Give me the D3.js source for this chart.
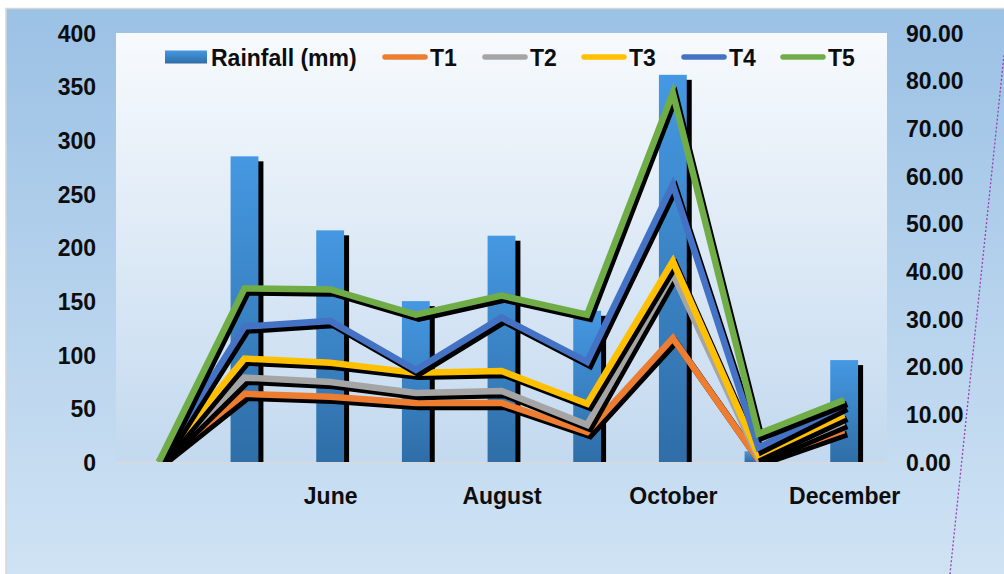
<!DOCTYPE html>
<html>
<head>
<meta charset="utf-8">
<script src="https://cdn.jsdelivr.net/npm/d3@7"></script>
<style>
  html, body { margin: 0; padding: 0; background: #ffffff; }
  svg { display: block; }
  text { font-family: "Liberation Sans", Arial, sans-serif; font-weight: bold; fill: #0d0d0d; }
</style>
</head>
<body>
<svg id="chart" width="1004" height="574"></svg>
<script>
// ---- data ----
const categories = ["", "May", "June", "July", "August", "September", "October", "November", "December"];
const xTickLabels = ["June", "August", "October", "December"];
const rainfall = [0, 285, 216, 150, 211, 141, 361, 10, 95];
const T1 = [0, 14.3, 13.7, 12.4, 12.4, 6.3, 26.0, 0.4, 6.7];
const T2 = [0, 17.7, 16.8, 14.5, 14.9, 7.8, 39.5, 0.8, 8.4];
const T3 = [0, 21.7, 20.8, 18.7, 19.1, 12.2, 42.1, 1.5, 9.9];
const T4 = [0, 28.4, 29.6, 19.3, 30.3, 21.0, 58.2, 3.0, 12.0];
const T5 = [0, 36.4, 36.2, 30.9, 34.9, 30.9, 77.4, 5.9, 13.0];
const seriesNames = ["T1", "T2", "T3", "T4", "T5"];
const seriesColors = ["#ed7d31", "#a5a5a5", "#ffc000", "#4472c4", "#70ad47"];
const leftTicks = [0, 50, 100, 150, 200, 250, 300, 350, 400];
const rightTicks = [0, 10, 20, 30, 40, 50, 60, 70, 80, 90];

const series = [T1, T2, T3, T4, T5].map((v, i) => ({ name: seriesNames[i], color: seriesColors[i], values: v }));

const svg = d3.select("#chart");
const defs = svg.append("defs");

const gOuter = defs.append("linearGradient").attr("id", "outerGrad").attr("x1", 0).attr("y1", 0).attr("x2", 0).attr("y2", 1);
gOuter.append("stop").attr("offset", "0%").attr("stop-color", "#9bc1e5");
gOuter.append("stop").attr("offset", "100%").attr("stop-color", "#d0e3f4");

const gPlot = defs.append("linearGradient").attr("id", "plotGrad").attr("x1", 0).attr("y1", 0).attr("x2", 0).attr("y2", 1);
gPlot.append("stop").attr("offset", "0%").attr("stop-color", "#f7fafd");
gPlot.append("stop").attr("offset", "100%").attr("stop-color", "#c3d9ef");

const gBar = defs.append("linearGradient").attr("id", "barGrad").attr("x1", 0).attr("y1", 0).attr("x2", 0).attr("y2", 1);
gBar.append("stop").attr("offset", "0%").attr("stop-color", "#4598e2");
gBar.append("stop").attr("offset", "100%").attr("stop-color", "#2f6ea7");

// ---- layout ----
const plot = { left: 116, right: 887, top: 33, bottom: 462 };

// background
svg.append("rect").attr("x", 6).attr("y", 8.5).attr("width", 1004).attr("height", 574)
  .attr("fill", "url(#outerGrad)").attr("stroke", "#d6d6d6").attr("stroke-width", 1.5);
svg.append("rect").attr("x", plot.left).attr("y", plot.top)
  .attr("width", plot.right - plot.left).attr("height", plot.bottom - plot.top)
  .attr("fill", "url(#plotGrad)");

// scales
const x = d3.scaleBand().domain(d3.range(categories.length)).range([plot.left, plot.right]).padding(0);
const cx = i => x(i) + x.bandwidth() / 2;
const yL = d3.scaleLinear().domain([0, 400]).range([plot.bottom, plot.top]);
const yR = d3.scaleLinear().domain([0, 90]).range([plot.bottom, plot.top]);
const barW = x.bandwidth() * 0.325;

// baseline
svg.append("line").attr("x1", plot.left).attr("x2", plot.right)
  .attr("y1", plot.bottom + 0.5).attr("y2", plot.bottom + 0.5)
  .attr("stroke", "#d9d9d9").attr("stroke-width", 1.5);

// bars with shadow
const barData = rainfall.map((v, i) => ({ i, v })).filter(d => d.v > 0);
svg.append("g").selectAll("rect").data(barData).join("rect")
  .attr("x", d => cx(d.i) - barW / 2 + 5).attr("y", d => yL(d.v) + 5)
  .attr("width", barW).attr("height", d => Math.max(0, plot.bottom - yL(d.v) - 5))
  .attr("fill", "#000");
svg.append("g").selectAll("rect").data(barData).join("rect")
  .attr("x", d => cx(d.i) - barW / 2).attr("y", d => yL(d.v))
  .attr("width", barW).attr("height", d => plot.bottom - yL(d.v))
  .attr("fill", "url(#barGrad)");

// lines with shadow
const line = d3.line().x((d, i) => cx(i)).y(d => yR(d));
const clip = defs.append("clipPath").attr("id", "plotClip");
clip.append("rect").attr("x", plot.left).attr("y", plot.top - 10).attr("width", plot.right - plot.left).attr("height", plot.bottom - plot.top + 10);
const gl = svg.append("g").attr("clip-path", "url(#plotClip)");
series.forEach(s => {
  gl.append("path").datum(s.values).attr("d", line)
    .attr("transform", "translate(3,4)")
    .attr("fill", "none").attr("stroke", "#000").attr("stroke-width", 6.5)
    .attr("stroke-linejoin", "miter");
  gl.append("path").datum(s.values).attr("d", line)
    .attr("fill", "none").attr("stroke", s.color).attr("stroke-width", 6.5)
    .attr("stroke-linejoin", "miter");
});

// axes
const fontSize = "23px";
const axL = svg.append("g").attr("transform", `translate(${plot.left},0)`)
  .call(d3.axisLeft(yL).tickValues(leftTicks).tickSize(0).tickPadding(20).tickFormat(d3.format("d")));
const axR = svg.append("g").attr("transform", `translate(${plot.right},0)`)
  .call(d3.axisRight(yR).tickValues(rightTicks).tickSize(0).tickPadding(19).tickFormat(d3.format(".2f")));
const tickIdx = xTickLabels.map(l => categories.indexOf(l));
const axB = svg.append("g").attr("transform", `translate(0,${plot.bottom})`)
  .call(d3.axisBottom(d3.scalePoint().domain(d3.range(categories.length)).range([cx(0), cx(categories.length - 1)]))
    .tickValues(tickIdx).tickSize(0).tickPadding(26).tickFormat(i => categories[i]));
[axL, axR, axB].forEach(a => {
  a.select(".domain").remove();
  a.selectAll("text").style("font-size", fontSize).style("font-family", '"Liberation Sans", Arial, sans-serif')
    .style("font-weight", "bold").attr("fill", "#0d0d0d");
});
axL.selectAll("text").attr("dy", "0.36em");
axR.selectAll("text").attr("dy", "0.36em");

// legend
const legend = svg.append("g");
legend.append("rect").attr("x", 165).attr("y", 50.5).attr("width", 42).attr("height", 13).attr("fill", "url(#barGrad)");
legend.append("text").attr("x", 211).attr("y", 66).style("font-size", fontSize).text("Rainfall (mm)");
const legX = [383, 483, 582, 682, 781];
series.forEach((s, i) => {
  legend.append("line").attr("x1", legX[i] + 2).attr("x2", legX[i] + 42).attr("y1", 57).attr("y2", 57)
    .attr("stroke", s.color).attr("stroke-width", 5.5).attr("stroke-linecap", "round");
  legend.append("text").attr("x", legX[i] + 47).attr("y", 66).style("font-size", fontSize).text(s.name);
});

// dotted diagonal page mark
svg.append("line").attr("x1", 1004).attr("y1", 55).attr("x2", 950).attr("y2", 574)
  .attr("stroke", "#9b3fb5").attr("stroke-width", 1.3).attr("stroke-dasharray", "2,2");
</script>
</body>
</html>
